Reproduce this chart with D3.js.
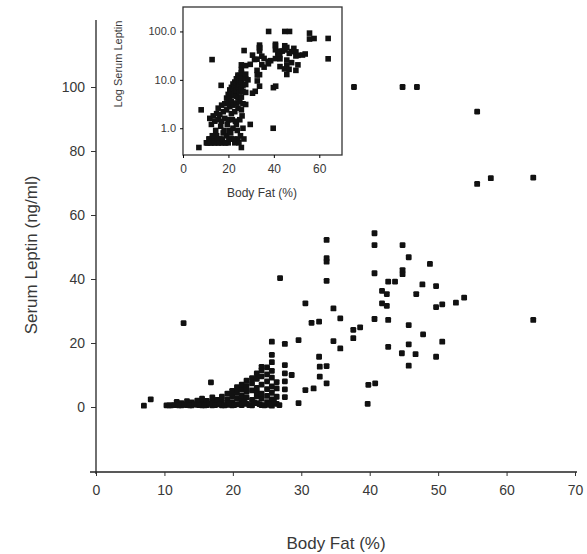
<!DOCTYPE html>
<html>
<head>
<meta charset="utf-8">
<script src="https://cdn.jsdelivr.net/npm/d3@7"></script>
<style>
  body { margin: 0; background: #fff; }
  text { font-family: "Liberation Sans", Arial, sans-serif; fill: #383838; }
</style>
</head>
<body>
<div class="leptin-plot"></div>
<script>
// dense group of lean subjects
const lowFat = [7.0,8.0,10.3,11.0,11.8,11.8,12.5,12.5,13.3,13.3,14.0,14.0,14.8,14.8,15.5,15.5,15.5,16.2,16.2,16.8,17.0,17.0,17.0,17.7,17.7,18.4,18.4,18.4,19.2,19.2,19.2,19.9,19.9,19.9,19.9,20.6,20.6,20.6,20.6,21.3,21.3,21.3,21.3,21.3,22.0,22.0,22.0,22.0,22.0,22.8,22.8,22.8,22.8,22.8,23.5,23.5,23.5,23.5,23.5,23.5,24.2,24.2,24.2,24.2,24.2,24.2,24.2,25.0,25.0,25.0,25.0,25.0,25.0,25.7,25.7,25.7,25.7,25.7,25.7,25.7,25.7,25.7,26.4,26.4,26.4,26.4,
	10.7,11.4,12.1,12.9,13.7,14.4,15.1,15.9,16.6,17.4,18.1,18.8,19.5,20.2,21.0,21.7,22.4,23.1,23.9,24.6,25.3,26.0,26.8];
const lowLeptin = [0.4,2.4,0.5,0.5,0.6,1.6,0.5,1.2,0.6,1.8,0.5,1.4,0.7,2.0,0.5,1.5,2.6,0.6,1.9,7.7,0.5,1.4,3.0,0.8,2.2,0.5,1.6,3.2,0.7,2.4,4.2,0.5,1.5,3.4,5.0,0.9,2.8,4.5,6.2,0.6,2.0,3.6,5.5,7.0,1.0,3.0,4.8,6.5,8.2,0.5,2.2,5.2,7.4,9.0,1.2,3.3,4.6,6.0,8.8,10.5,0.6,2.6,4.2,7.0,9.6,11.5,12.5,1.5,3.5,5.6,8.0,10.2,12.4,0.4,2.4,4.4,6.4,9.2,11.3,14.0,16.3,20.4,1.0,3.2,5.8,7.8,
	0.5,0.6,0.5,0.7,0.5,0.9,0.6,0.5,1.1,0.6,0.9,0.5,1.2,0.6,0.8,1.5,0.6,1.4,0.9,0.5,0.7,1.8,0.6];

const midFat = [12.8,26.9,27.6,27.6,27.6,27.6,27.6,27.6,28.6,29.6,29.6,30.6,30.6,31.5,31.8,32.6,32.6,32.7,32.7,33.7,33.7,33.7,33.7,33.7,33.7,34.7,34.7,35.7,35.7,37.6,38.6,37.6,39.7,39.8,40.8,40.7,40.7,40.7,40.7,41.8,41.8,42.5,42.5,42.7,43.7,42.7,42.7,44.8,44.8,44.8,44.7,45.7,45.7,45.7,45.7,46.7,46.8,47.7,47.8,48.8,49.7,49.7,49.7,50.6,50.6,52.6,53.8,63.9];
const midLeptin = [26.2,40.3,19.7,13.1,10.5,8.0,5.5,3.1,10.0,20.9,1.2,32.4,5.3,26.3,5.8,26.7,15.7,12.6,9.5,52.2,46.5,45.4,39.4,12.8,7.4,30.8,20.6,27.7,18.3,24.1,24.9,21.5,1.0,6.9,7.4,54.3,50.6,41.8,27.5,36.3,32.4,35.3,31.6,39.2,39.2,27.2,18.8,50.6,42.8,41.5,16.8,46.8,25.6,19.6,12.9,16.5,35.3,38.3,22.7,44.7,37.8,31.2,15.7,32.1,20.4,32.6,34.2,27.2];

const highFat = [37.7,44.8,46.9,55.7,55.7,57.7,63.9];
const highLeptin = [100,100,100,92.3,69.7,71.5,71.7];

const xTicks = [0,10,20,30,40,50,60,70];
const yTicks = [0,20,40,60,80,100];
const insetXTicks = [0,20,40,60];
const insetYTicks = [1,10,100];

const subjects = lowFat.map((f,i)=>({fat:f, leptin:lowLeptin[i]}))
	.concat(midFat.map((f,i)=>({fat:f, leptin:midLeptin[i]})))
	.concat(highFat.map((f,i)=>({fat:f, leptin:highLeptin[i]})));

const width = 587;
const height = 554;
const svg = d3.select('.leptin-plot')
	.append('svg')
	.attr('width', width)
	.attr('height', height);

const x = d3.scaleLinear().domain([0,70]).range([96,575]);
const y = d3.scaleLinear().domain([-20,121]).range([471,19.8]);

const xAxis = svg.append('g')
	.attr('transform','translate(0,472)')
	.call(d3.axisBottom(x).tickValues(xTicks).tickSize(4).tickPadding(9));
xAxis.select('.domain').attr('d','M90,0H577').attr('stroke','#222').attr('stroke-width',1.6);
xAxis.selectAll('.tick line').attr('stroke','#333');
xAxis.selectAll('text').attr('font-size',14).style('fill','#383838');

const yAxis = svg.append('g')
	.attr('transform','translate(96,0)')
	.call(d3.axisLeft(y).tickValues(yTicks).tickSize(5).tickPadding(6));
yAxis.select('.domain').attr('d','M0,20V474').attr('stroke','#222').attr('stroke-width',1.3);
yAxis.selectAll('.tick line').attr('stroke','#333');
yAxis.selectAll('text').attr('font-size',14).style('fill','#383838');

svg.append('g')
	.selectAll('rect')
	.data(subjects)
	.enter()
	.append('rect')
	.attr('x',d=>x(d.fat)-2.9)
	.attr('y',d=>y(d.leptin)-2.9)
	.attr('width',5.8)
	.attr('height',5.8)
	.attr('rx',1.2)
	.attr('fill','#111');

svg.append('text')
	.attr('x',336)
	.attr('y',549)
	.attr('text-anchor','middle')
	.attr('font-size',17)
	.text('Body Fat (%)');

svg.append('text')
	.attr('transform','translate(37,255) rotate(-90)')
	.attr('text-anchor','middle')
	.attr('font-size',17)
	.text('Serum Leptin (ng/ml)');

// inset, same subjects on a log scale
const ix = d3.scaleLinear().domain([0,70]).range([183,342]);
const iy = d3.scaleLog().domain([0.28,320]).range([155,7]);

svg.append('rect')
	.attr('x',183)
	.attr('y',7)
	.attr('width',159)
	.attr('height',148)
	.attr('fill','#fff')
	.attr('stroke','#333')
	.attr('stroke-width',1.3);

const ixAxis = svg.append('g')
	.attr('transform','translate(0,155)')
	.call(d3.axisBottom(ix).tickValues(insetXTicks).tickSize(3).tickPadding(6));
ixAxis.select('.domain').remove();
ixAxis.selectAll('text').attr('font-size',12).style('fill','#383838');

const iyAxis = svg.append('g')
	.attr('transform','translate(183,0)')
	.call(d3.axisLeft(iy).tickValues(insetYTicks).tickFormat(d3.format('.1f')).tickSize(3).tickPadding(4));
iyAxis.select('.domain').remove();
iyAxis.selectAll('text').attr('font-size',11).style('fill','#383838');

svg.append('g')
	.selectAll('rect')
	.data(subjects)
	.enter()
	.append('rect')
	.attr('x',d=>ix(d.fat)-2.8)
	.attr('y',d=>iy(d.leptin)-2.8)
	.attr('width',5.6)
	.attr('height',5.6)
	.attr('fill','#111');

svg.append('text')
	.attr('x',262)
	.attr('y',197)
	.attr('text-anchor','middle')
	.attr('font-size',12)
	.text('Body Fat (%)');

svg.append('text')
	.attr('transform','translate(122,64) rotate(-90)')
	.attr('text-anchor','middle')
	.attr('font-size',11)
	.text('Log Serum Leptin');
</script>
</body>
</html>
